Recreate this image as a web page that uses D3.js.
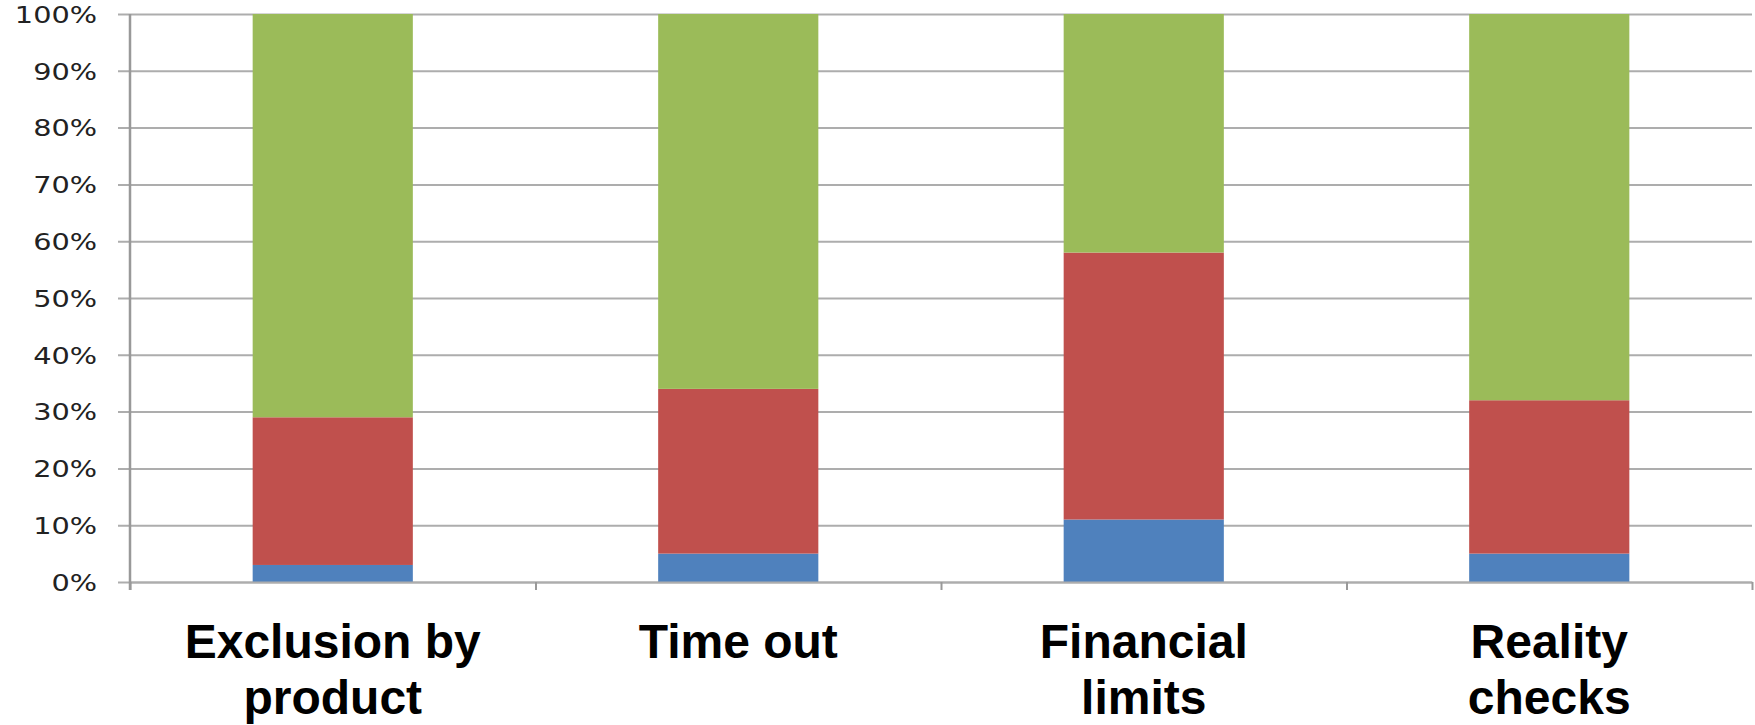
<!DOCTYPE html>
<html>
<head>
<meta charset="utf-8">
<script src="https://cdn.jsdelivr.net/npm/d3@7"></script>
<style>
  body { margin: 0; background: #fff; }
  svg { display: block; }
</style>
</head>
<body>
<div id="chart"></div>
<script>
// data
const categories = ["Exclusion by product", "Time out", "Financial limits", "Reality checks"];
const categoryLines = [["Exclusion by", "product"], ["Time out"], ["Financial", "limits"], ["Reality", "checks"]];
const seriesNames = ["blue", "red", "green"];
const blueValues = [3, 5, 11, 5];
const redValues = [26, 29, 47, 27];
const greenValues = [71, 66, 42, 68];
const yTicks = [0, 10, 20, 30, 40, 50, 60, 70, 80, 90, 100];
const colors = ["#4F81BD", "#C0504D", "#9BBB59"];

const width = 1755;
const height = 725;
const margin = {t: 14, b: 143, l: 130, r: 3};

const svg = d3.select("#chart")
    .append("svg")
    .attr("width", width)
    .attr("height", height)
    .attr("viewBox", [0, 0, width, height]);

const rows = categories.map((c, i) => ({
    id: c,
    blue: blueValues[i],
    red: redValues[i],
    green: greenValues[i]
}));
const stacked = d3.stack().keys(seriesNames)(rows);

// scales
const xScale = d3.scaleBand()
    .domain(categories)
    .range([margin.l, width - margin.r])
    .paddingInner(0.605)
    .paddingOuter(0.3025);
const xEdges = d3.scaleLinear()
    .domain([0, categories.length])
    .range([margin.l, width - margin.r]);
const yScale = d3.scaleLinear()
    .domain([0, 100])
    .range([height - margin.b, margin.t]);

const gridColor = "#adadad";
const axisColor = "#999";

// gridlines
const grid = svg.append("g")
    .attr("class", "grid")
    .attr("transform", `translate(${margin.l - 12}, 0)`)
    .call(d3.axisLeft(yScale)
        .tickValues(yTicks)
        .tickSize(-(width - margin.r - margin.l + 12))
        .tickFormat(""));
grid.select(".domain").remove();
grid.selectAll(".tick line")
    .attr("stroke", gridColor)
    .attr("stroke-width", 2);

// bars
svg.append("g")
    .selectAll("g")
    .data(stacked)
    .join("g")
    .attr("fill", (d, i) => colors[i])
    .selectAll("rect")
    .data(d => d)
    .join("rect")
    .attr("x", d => xScale(d.data.id))
    .attr("y", d => yScale(d[1]))
    .attr("width", xScale.bandwidth())
    .attr("height", d => yScale(d[0]) - yScale(d[1]));

// x axis
const xAxis = svg.append("g")
    .attr("class", "xAxis")
    .attr("transform", `translate(0, ${height - margin.b})`)
    .call(d3.axisBottom(xEdges)
        .tickValues(d3.range(categories.length + 1))
        .tickSize(8)
        .tickSizeOuter(0)
        .tickFormat(""));
xAxis.select(".domain").attr("stroke", gridColor).attr("stroke-width", 2);
xAxis.selectAll(".tick line").attr("stroke", axisColor).attr("stroke-width", 2);

// y axis
const yAxis = svg.append("g")
    .attr("class", "yAxis")
    .attr("transform", `translate(${margin.l}, 0)`)
    .call(d3.axisLeft(yScale)
        .tickValues(yTicks)
        .tickSize(0)
        .tickSizeOuter(0)
        .tickFormat(d => d + "%"));
yAxis.select(".domain").remove();
yAxis.append("line")
    .attr("x1", 0)
    .attr("x2", 0)
    .attr("y1", yScale(100))
    .attr("y2", yScale(0) + 8)
    .attr("stroke", axisColor)
    .attr("stroke-width", 2.5);
yAxis.selectAll(".tick text")
    .attr("x", 0)
    .attr("dy", "0.36em")
    .attr("transform", "translate(-33, 0) scale(1.25, 1)")
    .attr("text-anchor", "end")
    .attr("fill", "#222")
    .style("font-family", "'DejaVu Sans', Verdana, sans-serif")
    .style("font-size", "23px");

// category labels
const labels = svg.append("g")
    .selectAll("text")
    .data(categories)
    .join("text")
    .attr("x", d => xScale(d) + xScale.bandwidth() / 2)
    .attr("y", 658)
    .attr("text-anchor", "middle")
    .attr("fill", "#000")
    .style("font-family", "'Liberation Sans', Arial, sans-serif")
    .style("font-weight", "bold")
    .style("font-size", "48px");
labels.selectAll("tspan")
    .data((d, i) => categoryLines[i])
    .join("tspan")
    .attr("x", function () { return d3.select(this.parentNode).attr("x"); })
    .attr("dy", (d, i) => i === 0 ? 0 : 56)
    .text(d => d);
</script>
</body>
</html>
